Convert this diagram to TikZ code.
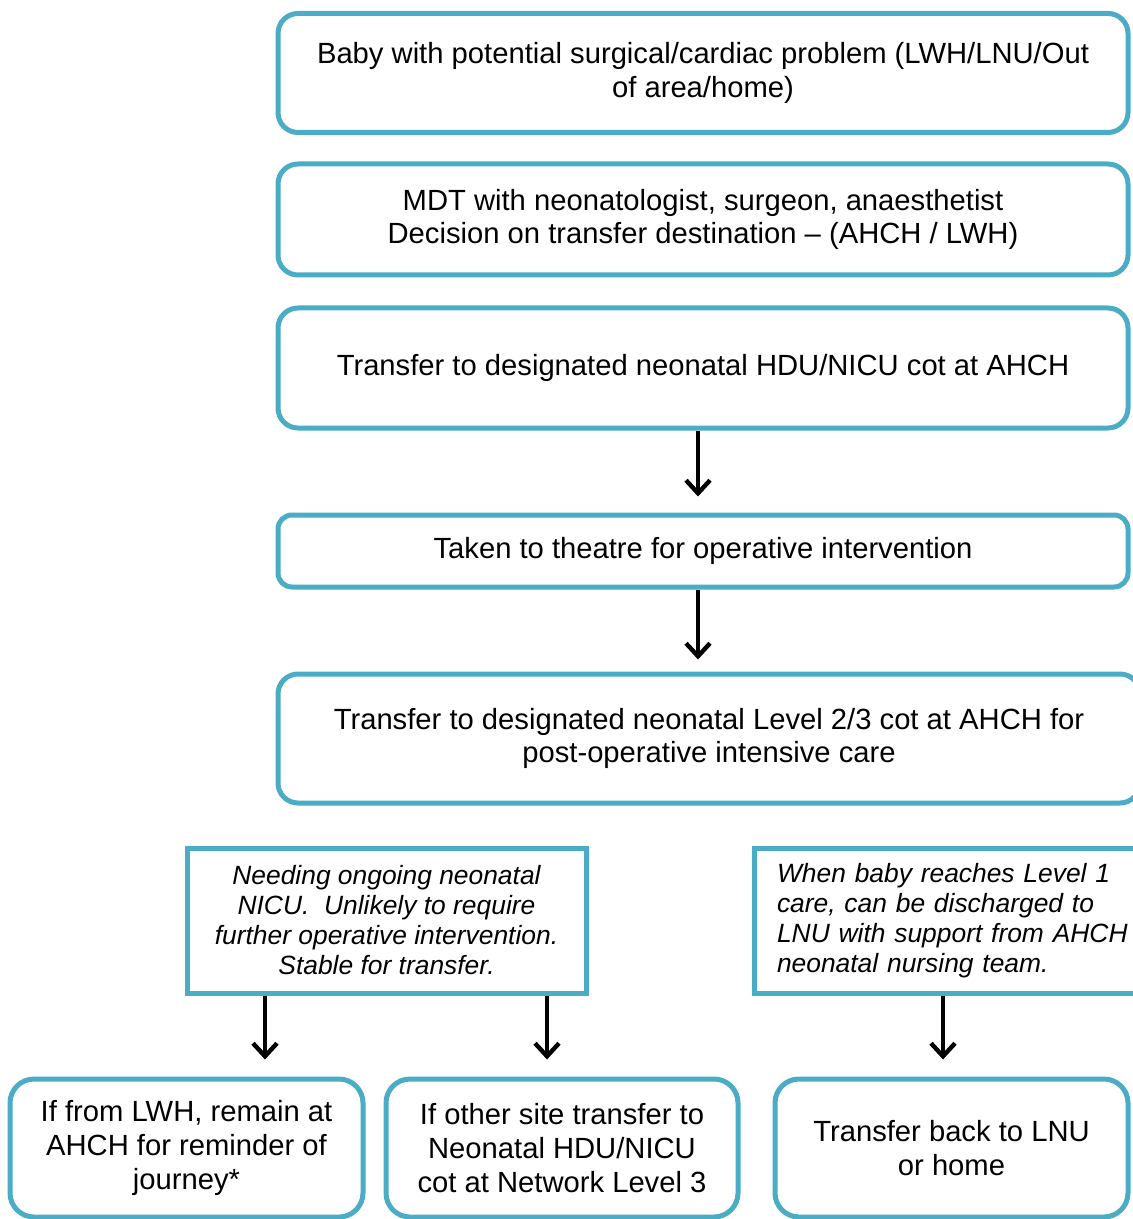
\documentclass[tikz,border=0pt]{standalone}
\usepackage{fontspec}
\setmainfont{Liberation Sans}
\usetikzlibrary{arrows.meta}

\begin{document}
\begin{tikzpicture}[x=0.5pt, y=-0.5pt,
    roundbox/.style={draw=myblue, line width=2.5pt, rounded corners=10pt, align=center,
      font=\fontsize{14.6}{16.8}\selectfont, inner sep=0pt},
    notebox/.style={draw=myblue, line width=2.5pt, inner sep=0pt,
      font=\fontsize{13.2}{15}\selectfont\itshape},
    arr/.style={line width=2.2pt, -{Straight Barb[length=6.5pt,width=12pt]}}]
			\definecolor{myblue}{RGB}{75, 172, 198}
			\useasboundingbox (0,0) rectangle (1132,1219);
			% main column
			\node[roundbox, minimum width=425pt, minimum height=59.5pt] (baby) at (703,73)
				{Baby with potential surgical/cardiac problem (LWH/LNU/Out\\of area/home)};
			\node[roundbox, minimum width=425pt, minimum height=55.5pt] (mdt) at (703,219.5)
				{MDT with neonatologist, surgeon, anaesthetist\\Decision on transfer destination – (AHCH / LWH)};
			\node[roundbox, minimum width=425pt, minimum height=60pt] (cot) at (703,368)
				{Transfer to designated neonatal HDU/NICU cot at AHCH};
			\node[roundbox, minimum width=425pt, minimum height=36pt, rounded corners=7pt] (theatre) at (703,551)
				{Taken to theatre for operative intervention};
			\node[roundbox, minimum width=431pt, minimum height=64.5pt] (postop) at (709,738.5)
				{Transfer to designated neonatal Level 2/3 cot at AHCH for\\post-operative intensive care};
			% notes
			\node[notebox, align=center, minimum width=199.5pt, minimum height=72.5pt] (ongoing) at (386.5,920.5)
				{Needing ongoing neonatal\\NICU.~~Unlikely to require\\further operative intervention.\\Stable for transfer.};
			\node[notebox, align=left, text width=185pt, inner xsep=11.5pt, minimum height=72.5pt] (level1) at (962,920.5)
				{When baby reaches Level 1\\care, can be discharged to\\LNU with support from AHCH\\neonatal nursing team.};
			% outcomes
			\node[roundbox, minimum width=176.5pt, minimum height=69pt, rounded corners=12pt] (remain) at (186.5,1148)
				{If from LWH, remain at\\AHCH for reminder of\\journey*};
			\node[roundbox, minimum width=176pt, minimum height=69pt, rounded corners=12pt] (network) at (562,1148)
				{If other site transfer to\\Neonatal HDU/NICU\\cot at Network Level 3};
			\node[roundbox, minimum width=176.5pt, minimum height=69pt, rounded corners=12pt] (lnu) at (951.5,1148)
				{Transfer back to LNU\\or home};
			% arrows
			\coordinate (a1) at ([xshift=-2.5pt]cot.south);
			\coordinate (a2) at ([xshift=-2.5pt]theatre.south);
			\coordinate (a3) at ([xshift=-60.75pt]ongoing.south);
			\coordinate (a4) at ([xshift=80.25pt]ongoing.south);
			\coordinate (a5) at ([xshift=-9.5pt]level1.south);
			\draw[arr, shorten >=8pt] (a1) -- (a1 |- theatre.north);
			\draw[arr, shorten >=6pt] (a2) -- (a2 |- postop.north);
			\draw[arr, shorten >=8.5pt] (a3) -- (a3 |- remain.north);
			\draw[arr, shorten >=8.5pt] (a4) -- (a4 |- network.north);
			\draw[arr, shorten >=8.5pt] (a5) -- (a5 |- lnu.north);
		\end{tikzpicture}
\end{document}
